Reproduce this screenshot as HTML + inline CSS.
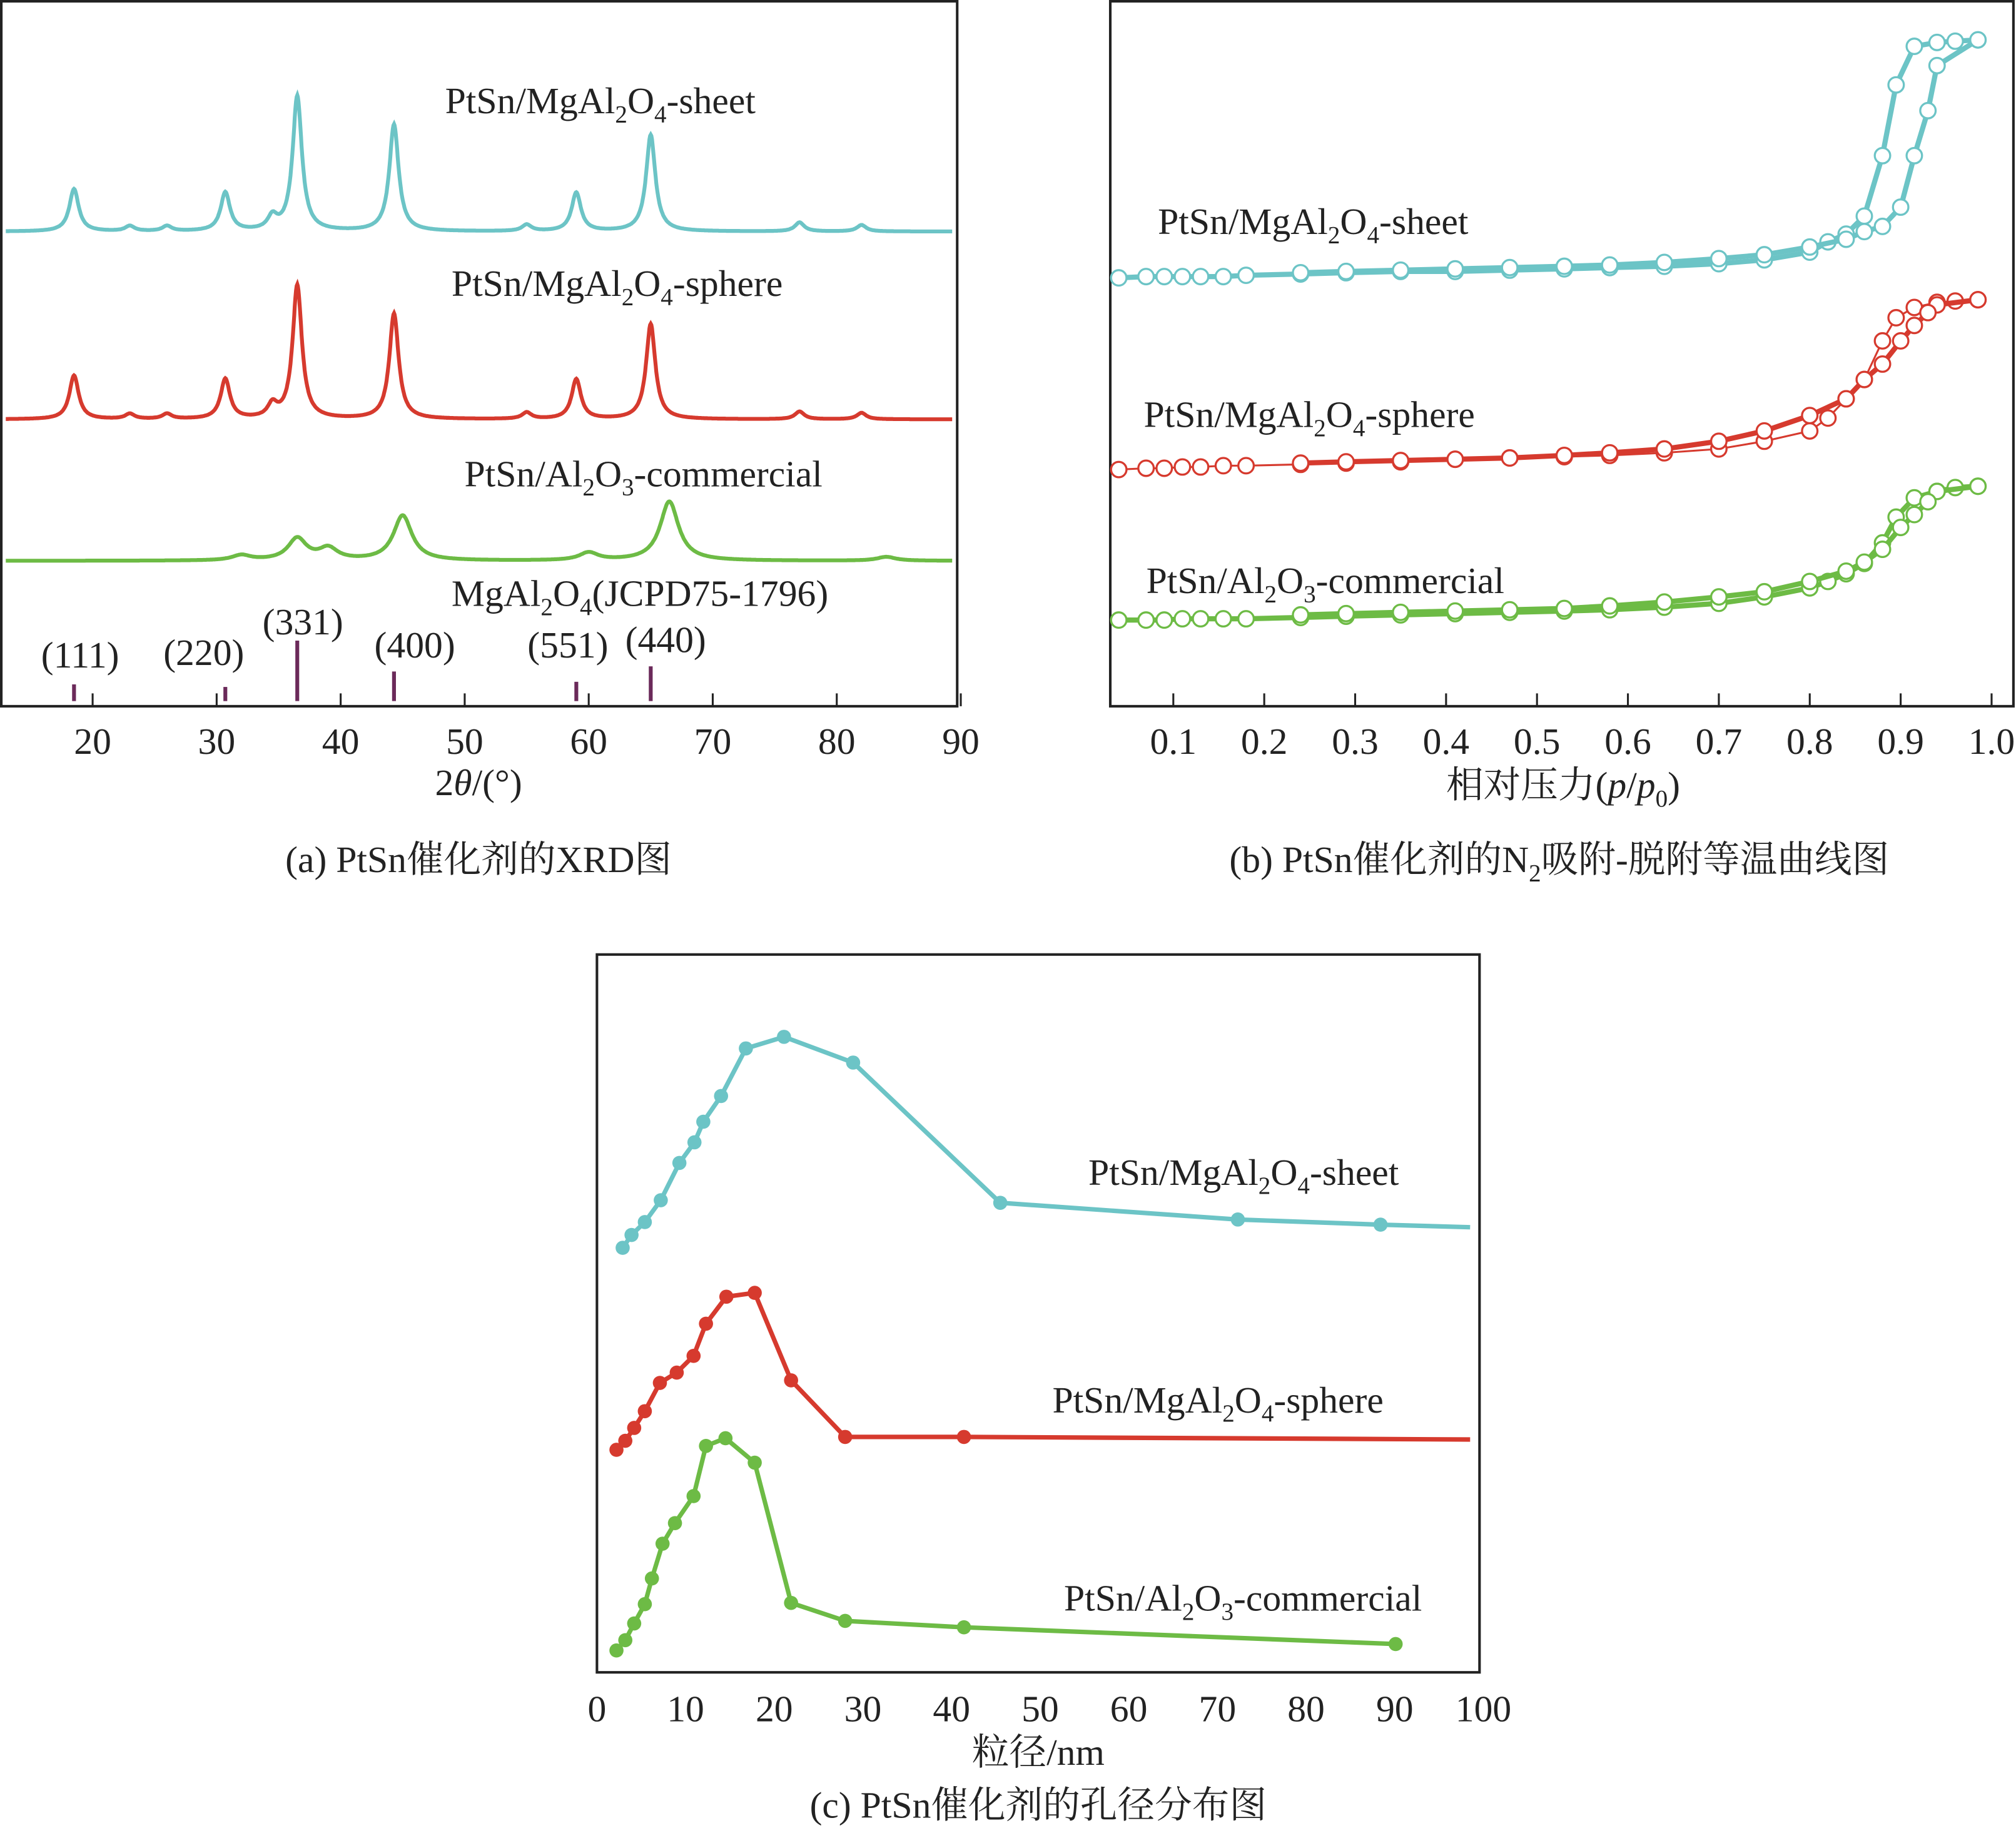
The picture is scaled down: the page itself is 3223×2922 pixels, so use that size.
<!DOCTYPE html>
<html><head><meta charset="utf-8"><style>
html,body{margin:0;padding:0;background:#fff}
svg{display:block}
text{font-family:"Liberation Serif","Noto Serif CJK SC","Noto Sans CJK SC",serif;fill:#222}
</style></head><body>
<svg id="fig" width="3223" height="2922" viewBox="0 0 1567 1421" preserveAspectRatio="none" xmlns="http://www.w3.org/2000/svg">
<rect width="1567" height="1421" fill="#fff"/>
<!-- Panel a -->
<g>
<rect x="1" y="1" width="743" height="548" fill="none" stroke="#222" stroke-width="2"/>
<g id="aTicks"></g>
<g id="aCurves"></g>
<text x="346" y="88" font-size="29">PtSn/MgAl<tspan font-size="19" dy="7">2</tspan><tspan dy="-7">O</tspan><tspan font-size="19" dy="7">4</tspan><tspan dy="-7">-sheet</tspan></text>
<text x="351" y="230" font-size="29">PtSn/MgAl<tspan font-size="19" dy="7">2</tspan><tspan dy="-7">O</tspan><tspan font-size="19" dy="7">4</tspan><tspan dy="-7">-sphere</tspan></text>
<text x="361" y="378" font-size="29">PtSn/Al<tspan font-size="19" dy="7">2</tspan><tspan dy="-7">O</tspan><tspan font-size="19" dy="7">3</tspan><tspan dy="-7">-commercial</tspan></text>
<text x="351" y="471" font-size="29">MgAl<tspan font-size="19" dy="7">2</tspan><tspan dy="-7">O</tspan><tspan font-size="19" dy="7">4</tspan><tspan dy="-7">(JCPD75-1796)</tspan></text>
<text x="32" y="519" font-size="29">(111)</text>
<text x="127" y="517" font-size="29">(220)</text>
<text x="204" y="493" font-size="29">(331)</text>
<text x="291" y="511" font-size="29">(400)</text>
<text x="410" y="511" font-size="29">(551)</text>
<text x="486" y="507" font-size="29">(440)</text>
<text x="372" y="618" font-size="29" text-anchor="middle">2<tspan font-style="italic">θ</tspan>/(°)</text>
<text x="372" y="678" font-size="29" text-anchor="middle">(a) PtSn催化剂的XRD图</text>
</g>
<!-- Panel b -->
<g>
<rect x="863" y="1" width="702" height="548" fill="none" stroke="#222" stroke-width="2"/>
<g id="bTicks"></g>
<g id="bCurves"></g>
<text x="900" y="182" font-size="29">PtSn/MgAl<tspan font-size="19" dy="7">2</tspan><tspan dy="-7">O</tspan><tspan font-size="19" dy="7">4</tspan><tspan dy="-7">-sheet</tspan></text>
<text x="889" y="332" font-size="29">PtSn/MgAl<tspan font-size="19" dy="7">2</tspan><tspan dy="-7">O</tspan><tspan font-size="19" dy="7">4</tspan><tspan dy="-7">-sphere</tspan></text>
<text x="891" y="461" font-size="29">PtSn/Al<tspan font-size="19" dy="7">2</tspan><tspan dy="-7">O</tspan><tspan font-size="19" dy="7">3</tspan><tspan dy="-7">-commercial</tspan></text>
<text x="1215" y="620" font-size="29" text-anchor="middle">相对压力(<tspan font-style="italic">p</tspan>/<tspan font-style="italic">p</tspan><tspan font-size="19" dy="7">0</tspan><tspan dy="-7">)</tspan></text>
<text x="1212" y="678" font-size="29" text-anchor="middle">(b) PtSn催化剂的N<tspan font-size="19" dy="7">2</tspan><tspan dy="-7">吸附-脱附等温曲线图</tspan></text>
</g>
<!-- Panel c -->
<g>
<rect x="464" y="742" width="686" height="558" fill="none" stroke="#222" stroke-width="2"/>
<g id="cTicks"></g>
<g id="cCurves"></g>
<text x="846" y="921" font-size="29">PtSn/MgAl<tspan font-size="19" dy="7">2</tspan><tspan dy="-7">O</tspan><tspan font-size="19" dy="7">4</tspan><tspan dy="-7">-sheet</tspan></text>
<text x="818" y="1098" font-size="29">PtSn/MgAl<tspan font-size="19" dy="7">2</tspan><tspan dy="-7">O</tspan><tspan font-size="19" dy="7">4</tspan><tspan dy="-7">-sphere</tspan></text>
<text x="827" y="1252" font-size="29">PtSn/Al<tspan font-size="19" dy="7">2</tspan><tspan dy="-7">O</tspan><tspan font-size="19" dy="7">3</tspan><tspan dy="-7">-commercial</tspan></text>
<text x="807" y="1372" font-size="29" text-anchor="middle">粒径/nm</text>
<text x="807" y="1413" font-size="29" text-anchor="middle">(c) PtSn催化剂的孔径分布图</text>
</g>
</svg>
<script>
const NS="http://www.w3.org/2000/svg";
// ---- data panel a
const aTickLabels=[20,30,40,50,60,70,80,90];
const xrdSheetPos=[18.5,23,26,30.7,34.5,36.5,44.3,55,59,65,77,82];
const xrdSheetH=[33,4,4,30,10,105,83,5,30,75,7,5];
const xrdSpherePos=[18.5,23,26,30.7,34.5,36.5,44.3,55,59,65,77,82];
const xrdSphereH=[34,4,4,31,10,104,82,5,31,74,6,5];
const xrdCommPos=[32,36.5,39,45,60,66.5,84];
const xrdCommH=[4,17,9,35,6,46,3];
const refPos=[18.5,30.7,36.5,44.3,59,65];
const refH=[13,11,47,23,15,27];
// ---- data panel b
const bTickLabels=[0.1,0.2,0.3,0.4,0.5,0.6,0.7,0.8,0.9,1.0];
const pAds=[0.04,0.07,0.09,0.11,0.13,0.155,0.18,0.24,0.29,0.35,0.41,0.47,0.53,0.58,0.64,0.7,0.75,0.8,0.82,0.84,0.86,0.88,0.895,0.915,0.94,0.96,0.985];
const sheetAds=[0,1,1,1,1,1,2,3,4,5,5,6,7,8,9,11,14,20,28,34,48,95,150,180,183,184,185];
const pDes=[0.985,0.94,0.93,0.915,0.9,0.88,0.86,0.84,0.8,0.75,0.7,0.64,0.58,0.53,0.47,0.41,0.35,0.29,0.24];
const sheetDes=[185,165,130,95,55,40,36,30,24,18,15,12,10,9,8,7,6,5,4];
const sphereAds=[0,1,1,2,2,3,3,4,5,6,8,9,10,11,13,16,22,30,40,55,70,100,118,126,130,131,132];
const sphereDes=[132,128,122,112,100,82,70,55,42,30,22,16,13,11,9,8,7,6,5];
const commAds=[0,0,0,1,1,1,1,2,3,4,5,6,7,8,10,13,18,25,30,36,44,60,80,95,100,103,104];
const commDes=[104,100,92,82,72,55,45,38,30,22,18,14,11,9,8,7,6,5,4];
// ---- data panel c
const cTickLabels=[0,10,20,30,40,50,60,70,80,90,100];
const dSheet=[2.9,3.9,5.4,7.2,9.3,11.0,12.0,14.0,16.8,21.1,28.9,45.5,72.3,88.4];
const vSheet=[0,10,20,37,66,82,98,118,155,164,144,35,22,18];
const dSphere=[2.2,3.2,4.2,5.4,7.1,9.0,10.9,12.3,14.6,17.8,21.9,28.0,41.4];
const vSphere=[0,7,17,30,52,60,73,98,119,122,54,10,10];
const dComm=[2.2,3.2,4.2,5.4,6.2,7.4,8.8,10.9,12.3,14.5,17.8,21.9,28.0,41.4,90.1];
const vComm=[0,8,21,36,56,83,99,120,159,165,146,37,23,18,5];

function el(tag,attrs,parent){const e=document.createElementNS(NS,tag);for(const k in attrs)e.setAttribute(k,attrs[k]);parent.appendChild(e);return e;}
// panel a
const ax=v=>72+(v-20)*9.64;
const aT=document.getElementById('aTicks');
aTickLabels.forEach(v=>{
  const t=el('line',{x1:ax(v),x2:ax(v),y1:549,y2:539,stroke:'#222','stroke-width':1.5},aT);
  
  
  const l=el('text',{x:ax(v),y:586,'font-size':29,'text-anchor':'middle'},aT);l.textContent=v;
  
  
});
const aC=document.getElementById('aCurves');
function xrd(pos,h,base,w,color,name){
  let d='';
  for(let x=13;x<=89.3;x+=0.05){
    let y=0;pos.forEach((c,i)=>{y+=h[i]/(1+((x-c)/w)**2);});
    d+=(d?'L':'M')+ax(x).toFixed(1)+','+(base-y).toFixed(1);
  }
  const p=el('path',{d:d,fill:'none',stroke:color,'stroke-width':3},aC);
  
  
}
xrd(xrdSheetPos,xrdSheetH,180,0.45,'#6cc4c6','xrd-sheet-curve');
xrd(xrdSpherePos,xrdSphereH,326,0.45,'#d63a2e','xrd-sphere-curve');
xrd(xrdCommPos,xrdCommH,436,0.9,'#6dbb45','xrd-commercial-curve');
refPos.forEach((v,i)=>{
  const r=el('line',{x1:ax(v),x2:ax(v),y1:545,y2:545-refH[i],stroke:'#6b2a5a','stroke-width':3},aC);
  
  
});
// panel b
const bx=v=>912+(v-0.1)*706.7;
const bT=document.getElementById('bTicks');
bTickLabels.forEach(v=>{
  const t=el('line',{x1:bx(v),x2:bx(v),y1:549,y2:539,stroke:'#222','stroke-width':1.5},bT);
  
  
  const l=el('text',{x:bx(v),y:586,'font-size':29,'text-anchor':'middle'},bT);l.textContent=v.toFixed(1);
  
  
});
const bC=document.getElementById('bCurves');
function iso(ps,vs,base,color,sw,name){
  const d=ps.map((p,i)=>(i?'L':'M')+bx(p).toFixed(1)+','+(base-vs[i]).toFixed(1)).join('');
  const p=el('path',{d:d,fill:'none',stroke:color,'stroke-width':sw},bC);
  
  
  ps.forEach((q,i)=>{
    const c=el('circle',{cx:bx(q),cy:base-vs[i],r:6,fill:'#fff',stroke:color,'stroke-width':1.6},bC);
    
    
  });
}
iso(pAds,sheetAds,216,'#6cc4c6',4,'sheet-adsorption');
iso(pDes,sheetDes,216,'#6cc4c6',4,'sheet-desorption');
iso(pAds,sphereAds,365,'#d63a2e',1.5,'sphere-adsorption');
iso(pDes,sphereDes,365,'#d63a2e',4,'sphere-desorption');
iso(pAds,commAds,482,'#6dbb45',4,'commercial-adsorption');
iso(pDes,commDes,482,'#6dbb45',4,'commercial-desorption');
// panel c
const cx=v=>464+v*6.89;
const cT=document.getElementById('cTicks');
cTickLabels.forEach(v=>{
  const l=el('text',{x:cx(v),y:1338,'font-size':29,'text-anchor':'middle'},cT);l.textContent=v;
  
  
});
const cC=document.getElementById('cCurves');
function psd(ds,vs,base,color,endX,name){
  let d=ds.map((q,i)=>(i?'L':'M')+cx(q).toFixed(1)+','+(base-vs[i]).toFixed(1)).join('');
  if(endX!==null) d+='L'+cx(endX).toFixed(1)+','+(base-vs[vs.length-1]+2).toFixed(1);
  const p=el('path',{d:d,fill:'none',stroke:color,'stroke-width':3.5},cC);
  
  
  ds.forEach((q,i)=>{
    const c=el('circle',{cx:cx(q),cy:base-vs[i],r:5.5,fill:color},cC);
    
    
  });
}
psd(dSheet,vSheet,970,'#6cc4c6',98.5,'pore-sheet');
psd(dSphere,vSphere,1127,'#d63a2e',98.5,'pore-sphere');
psd(dComm,vComm,1283,'#6dbb45',null,'pore-commercial');
</script>
</body></html>
